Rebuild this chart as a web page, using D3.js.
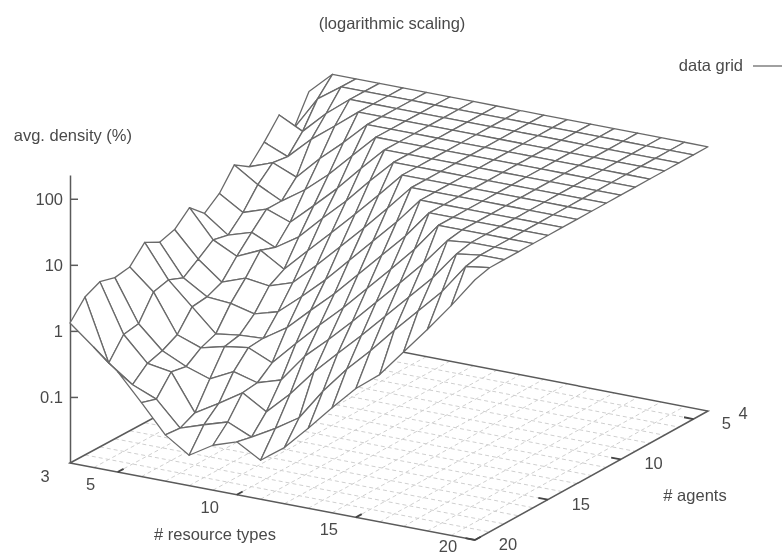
<!DOCTYPE html>
<html>
<head>
<meta charset="utf-8">
<script src="https://cdn.jsdelivr.net/npm/d3@7"></script>
<style>
  html, body { margin: 0; padding: 0; background: #fff; }
  text { font-family: "Liberation Sans", sans-serif; font-size: 16.5px; fill: #4a4a4a; }
</style>
</head>
<body>
<svg id="chart" width="782" height="555"></svg>
<script>
// axes of the grid
const resourceTypes = d3.range(3, 21);
const agents = d3.range(4, 21);
const resourceTicks = [5, 10, 15, 20];
const agentTicks = [5, 10, 15, 20];
const densityTicks = [0.1, 1, 10, 100];

// log10 of avg. density (%), one list per agent count,
// values for 3..20 resource types
const a4  = [1.67, 2, 2, 2, 2, 2, 2, 2, 2, 2, 2, 2, 2, 2, 2, 2, 2, 2];
const a5  = [1.24, 1.75, 2, 2, 2, 2, 2, 2, 2, 2, 2, 2, 2, 2, 2, 2, 2, 2];
const a6  = [1.56, 1.38, 1.72, 2, 2, 2, 2, 2, 2, 2, 2, 2, 2, 2, 2, 2, 2, 2];
const a7  = [1.27, 1.12, 1.45, 1.72, 2, 2, 2, 2, 2, 2, 2, 2, 2, 2, 2, 2, 2, 2];
const a8  = [1.02, 1.15, 1.0, 1.35, 1.66, 2, 2, 2, 2, 2, 2, 2, 2, 2, 2, 2, 2, 2];
const a9  = [1.17, 0.94, 0.76, 1.0, 1.3, 1.65, 2, 2, 2, 2, 2, 2, 2, 2, 2, 2, 2, 2];
const a10 = [0.86, 0.64, 0.76, 0.63, 0.95, 1.28, 1.65, 2, 2, 2, 2, 2, 2, 2, 2, 2, 2, 2];
const a11 = [0.68, 0.42, 0.53, 0.37, 0.6, 0.95, 1.28, 1.65, 2, 2, 2, 2, 2, 2, 2, 2, 2, 2];
const a12 = [0.89, 0.47, 0.29, 0.45, 0.23, 0.58, 0.92, 1.27, 1.63, 2, 2, 2, 2, 2, 2, 2, 2, 2];
const a13 = [0.68, 0.3, 0.02, 0.15, 0.1, 0.22, 0.55, 0.9, 1.25, 1.62, 2, 2, 2, 2, 2, 2, 2, 2];
const a14 = [0.61, 0.14, -0.08, -0.11, -0.2, -0.1, 0.2, 0.52, 0.88, 1.24, 1.6, 2, 2, 2, 2, 2, 2, 2];
const a15 = [0.73, 0.23, -0.11, -0.45, -0.4, -0.38, -0.15, 0.18, 0.5, 0.86, 1.22, 1.58, 2, 2, 2, 2, 2, 2];
const a16 = [0.48, 0.17, -0.41, -0.54, -0.45, -0.4, -0.56, -0.2, 0.15, 0.48, 0.84, 1.2, 1.57, 2, 2, 2, 2, 2];
const a17 = [0.44, -0.19, -0.53, -0.7, -0.82, -0.64, -0.74, -0.63, -0.2, 0.12, 0.46, 0.82, 1.18, 1.55, 1.96, 2, 2, 2];
const a18 = [0.5, -0.23, -0.6, -0.66, -1.21, -1.0, -0.77, -0.99, -0.65, -0.25, 0.1, 0.44, 0.8, 1.16, 1.52, 1.95, 2, 2];
const a19 = [0.39, -0.54, -0.8, -0.95, -1.32, -1.2, -1.09, -1.25, -1.05, -0.82, -0.35, 0.05, 0.4, 0.78, 1.14, 1.5, 1.95, 2];
const a20 = [0.12, -0.18, -0.48, -0.88, -1.3, -1.54, -1.32, -1.2, -1.41, -1.15, -0.79, -0.41, -0.05, 0.23, 0.64, 1.05, 1.48, 1.94];
const logDensity = [a4, a5, a6, a7, a8, a9, a10, a11, a12, a13, a14, a15, a16, a17, a18, a19, a20];

const svg = d3.select('#chart');

const defs = svg.append('defs');
defs.append('filter').attr('id', 'soft')
  .attr('x', '-5%').attr('y', '-5%').attr('width', '110%').attr('height', '110%')
  .append('feGaussianBlur').attr('stdDeviation', 0.7);

const g = svg.append('g').attr('filter', 'url(#soft)');

// the floor is a four sided patch, its left edge is 3 resource types, the right one 20
const leftX = d3.scaleLinear().domain([20, 4]).range([70, 309]);
const leftY = d3.scaleLinear().domain([20, 4]).range([463, 334]);
const rightX = d3.scaleLinear().domain([20, 4]).range([475, 708]);
const rightY = d3.scaleLinear().domain([20, 4]).range([540, 411]);
const along = d3.scaleLinear().domain([3, 20]).range([0, 1]);
const zScale = d3.scaleLog().domain([0.01, 229]).range([463, 175]);

function floorPoint(r, a) {
  const t = along(r);
  return [
    d3.interpolateNumber(leftX(a), rightX(a))(t),
    d3.interpolateNumber(leftY(a), rightY(a))(t)
  ];
}

function surfacePoint(r, a) {
  const p = floorPoint(r, a);
  const v = Math.pow(10, logDensity[a - 4][r - 3]);
  return [p[0], p[1] + zScale(v) - zScale(0.01)];
}

const line = d3.line();

// floor grid
const floorGrid = g.append('g')
  .attr('fill', 'none')
  .attr('stroke', '#cfcfcf')
  .attr('stroke-width', 1)
  .attr('stroke-dasharray', '4,3');

floorGrid.selectAll('path.r')
  .data(resourceTypes.slice(1, -1))
  .join('path')
  .attr('class', 'r')
  .attr('d', r => line([floorPoint(r, 20), floorPoint(r, 4)]));

floorGrid.selectAll('path.a')
  .data(agents.slice(1, -1))
  .join('path')
  .attr('class', 'a')
  .attr('d', a => line([floorPoint(3, a), floorPoint(20, a)]));

// floor border
g.append('path')
  .attr('d', line([floorPoint(3, 20), floorPoint(20, 20), floorPoint(20, 4), floorPoint(3, 4)]) + 'Z')
  .attr('fill', 'none')
  .attr('stroke', '#5a5a5a')
  .attr('stroke-width', 1.5);

// ticks on the floor
const tickMarks = g.append('g').attr('stroke', '#444').attr('stroke-width', 1.8);
tickMarks.selectAll('path.rt')
  .data(resourceTicks)
  .join('path')
  .attr('class', 'rt')
  .attr('d', r => line([floorPoint(r, 20), floorPoint(r, 19.6)]));
tickMarks.selectAll('path.at')
  .data(agentTicks)
  .join('path')
  .attr('class', 'at')
  .attr('d', a => line([floorPoint(20, a), floorPoint(19.6, a)]));

// density axis
const zAxis = d3.axisLeft(zScale)
  .tickValues(densityTicks)
  .tickFormat(d => d)
  .tickSizeInner(-8)
  .tickSizeOuter(0)
  .tickPadding(7);

const zG = g.append('g').attr('transform', 'translate(70,0)').call(zAxis);
zG.selectAll('path, line').attr('stroke', '#5a5a5a').attr('stroke-width', 1.5);
zG.selectAll('text').style('font-family', '"Liberation Sans", sans-serif').style('font-size', '16.5px');

// surface, painted from the far corner to the near one
const cells = [];
resourceTypes.slice(0, -1).forEach(r => {
  agents.slice(0, -1).forEach(a => cells.push({ r, a }));
});
cells.sort((p, q) => (p.r + p.a) - (q.r + q.a));

g.append('g')
  .selectAll('path')
  .data(cells)
  .join('path')
  .attr('d', c => line([
    surfacePoint(c.r, c.a),
    surfacePoint(c.r + 1, c.a),
    surfacePoint(c.r + 1, c.a + 1),
    surfacePoint(c.r, c.a + 1)
  ]) + 'Z')
  .attr('fill', '#fff')
  .attr('stroke', '#6a6a6a')
  .attr('stroke-width', 1.3)
  .attr('stroke-linejoin', 'round');

// labels
const labels = [
  { t: '(logarithmic scaling)', x: 392, y: 29, anchor: 'middle' },
  { t: 'data grid', x: 743, y: 71, anchor: 'end' },
  { t: 'avg. density (%)', x: 132, y: 141, anchor: 'end' },
  { t: '# resource types', x: 215, y: 540, anchor: 'middle' },
  { t: '# agents', x: 695, y: 501, anchor: 'middle' },
  { t: '3', x: 45, y: 482, anchor: 'middle' },
  { t: '4', x: 743, y: 419, anchor: 'middle' }
];
g.selectAll('text.lab')
  .data(labels)
  .join('text')
  .attr('class', 'lab')
  .attr('x', d => d.x)
  .attr('y', d => d.y)
  .attr('text-anchor', d => d.anchor)
  .text(d => d.t);

// the last label sits right on the page edge, keep it inside
g.selectAll('text.rl')
  .data(resourceTicks)
  .join('text')
  .attr('class', 'rl')
  .attr('x', r => floorPoint(r, 20)[0] - 27)
  .attr('y', r => Math.min(floorPoint(r, 20)[1] + 18, 552))
  .attr('text-anchor', 'middle')
  .text(r => r);

g.selectAll('text.al')
  .data(agentTicks)
  .join('text')
  .attr('class', 'al')
  .attr('x', a => floorPoint(20, a)[0] + 33)
  .attr('y', a => floorPoint(20, a)[1] + 10)
  .attr('text-anchor', 'middle')
  .text(a => a);

// legend sample
g.append('path')
  .attr('d', line([[753, 66], [782, 66]]))
  .attr('stroke', '#777')
  .attr('stroke-width', 1.4);
</script>
</body>
</html>
